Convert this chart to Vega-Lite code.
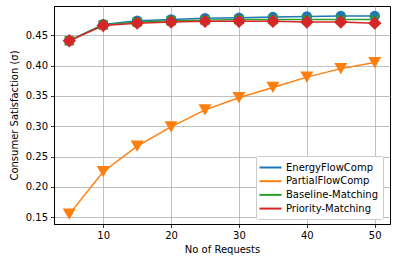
{
  "$schema": "https://vega.github.io/schema/vega-lite/v6.json",
  "width": 336,
  "height": 218,
  "autosize": {"type": "none"},
  "padding": {"left": 54, "top": 6, "right": 5, "bottom": 38},
  "background": "white",
  "config": {
    "font": "DejaVu Sans",
    "view": {"stroke": "black", "strokeWidth": 1},
    "axis": {
      "labelFont": "DejaVu Sans", "labelFontSize": 10, "labelColor": "black",
      "titleFont": "DejaVu Sans", "titleFontSize": 10, "titleFontWeight": "normal", "titleColor": "black",
      "gridColor": "#b0b0b0", "gridWidth": 0.8, "gridOpacity": 1,
      "tickColor": "black", "tickSize": 3.5, "tickWidth": 0.8,
      "domainColor": "black", "domainWidth": 1, "labelPadding": 3
    }
  },
  "data": {"values": [
    {"x": 5, "v": 0.441, "s": "EnergyFlowComp"},
    {"x": 10, "v": 0.468, "s": "EnergyFlowComp"},
    {"x": 15, "v": 0.474, "s": "EnergyFlowComp"},
    {"x": 20, "v": 0.476, "s": "EnergyFlowComp"},
    {"x": 25, "v": 0.478, "s": "EnergyFlowComp"},
    {"x": 30, "v": 0.479, "s": "EnergyFlowComp"},
    {"x": 35, "v": 0.480, "s": "EnergyFlowComp"},
    {"x": 40, "v": 0.481, "s": "EnergyFlowComp"},
    {"x": 45, "v": 0.482, "s": "EnergyFlowComp"},
    {"x": 50, "v": 0.482, "s": "EnergyFlowComp"},
    {"x": 5, "v": 0.155, "s": "PartialFlowComp"},
    {"x": 10, "v": 0.225, "s": "PartialFlowComp"},
    {"x": 15, "v": 0.267, "s": "PartialFlowComp"},
    {"x": 20, "v": 0.299, "s": "PartialFlowComp"},
    {"x": 25, "v": 0.327, "s": "PartialFlowComp"},
    {"x": 30, "v": 0.347, "s": "PartialFlowComp"},
    {"x": 35, "v": 0.364, "s": "PartialFlowComp"},
    {"x": 40, "v": 0.381, "s": "PartialFlowComp"},
    {"x": 45, "v": 0.395, "s": "PartialFlowComp"},
    {"x": 50, "v": 0.405, "s": "PartialFlowComp"},
    {"x": 5, "v": 0.441, "s": "Baseline-Matching"},
    {"x": 10, "v": 0.467, "s": "Baseline-Matching"},
    {"x": 15, "v": 0.472, "s": "Baseline-Matching"},
    {"x": 20, "v": 0.474, "s": "Baseline-Matching"},
    {"x": 25, "v": 0.475, "s": "Baseline-Matching"},
    {"x": 30, "v": 0.476, "s": "Baseline-Matching"},
    {"x": 35, "v": 0.476, "s": "Baseline-Matching"},
    {"x": 40, "v": 0.476, "s": "Baseline-Matching"},
    {"x": 45, "v": 0.476, "s": "Baseline-Matching"},
    {"x": 50, "v": 0.476, "s": "Baseline-Matching"},
    {"x": 5, "v": 0.441, "s": "Priority-Matching"},
    {"x": 10, "v": 0.466, "s": "Priority-Matching"},
    {"x": 15, "v": 0.470, "s": "Priority-Matching"},
    {"x": 20, "v": 0.472, "s": "Priority-Matching"},
    {"x": 25, "v": 0.473, "s": "Priority-Matching"},
    {"x": 30, "v": 0.473, "s": "Priority-Matching"},
    {"x": 35, "v": 0.473, "s": "Priority-Matching"},
    {"x": 40, "v": 0.472, "s": "Priority-Matching"},
    {"x": 45, "v": 0.472, "s": "Priority-Matching"},
    {"x": 50, "v": 0.470, "s": "Priority-Matching"}
  ]},
  "encoding": {
    "x": {"field": "x", "type": "quantitative",
      "scale": {"domain": [2.75, 52.25], "nice": false, "zero": false},
      "axis": {"values": [10, 20, 30, 40, 50], "title": "No of Requests", "titlePadding": 4}},
    "y": {"field": "v", "type": "quantitative",
      "scale": {"domain": [0.1387, 0.4983], "nice": false, "zero": false},
      "axis": {"values": [0.15, 0.2, 0.25, 0.3, 0.35, 0.4, 0.45], "format": ".2f", "title": "Consumer Satisfaction (σ)", "titlePadding": 6}}
  },
  "layer": [
    {"mark": {"type": "line", "strokeWidth": 1.5, "clip": true},
     "encoding": {
       "color": {"field": "s", "type": "nominal",
         "scale": {"domain": ["EnergyFlowComp", "PartialFlowComp", "Baseline-Matching", "Priority-Matching"],
                   "range": ["#1f77b4", "#ff7f0e", "#2ca02c", "#d62728"]},
         "legend": {"title": null, "orient": "none", "legendX": 202, "legendY": 150,
           "symbolType": "M-2,0L2,0", "symbolSize": 121, "symbolStrokeWidth": 2, "symbolOffset": 3,
           "labelFont": "DejaVu Sans", "labelFontSize": 10, "labelColor": "black",
           "strokeColor": "#cccccc", "fillColor": "white", "cornerRadius": 2, "padding": 5,
           "rowPadding": 1.7, "labelOffset": 9}}
     }},
    {"transform": [{"filter": "datum.s === 'EnergyFlowComp'"}],
     "mark": {"type": "point", "filled": true, "opacity": 1, "clip": true, "shape": "circle", "size": 110, "color": "#1f77b4"}},
    {"transform": [{"filter": "datum.s === 'PartialFlowComp'"}],
     "mark": {"type": "point", "filled": true, "opacity": 1, "clip": true, "shape": "triangle-down", "size": 170, "color": "#ff7f0e"}},
    {"transform": [{"filter": "datum.s === 'Baseline-Matching'"}],
     "mark": {"type": "point", "filled": true, "opacity": 1, "clip": true, "shape": "M-0.7,-1L0,-0.3L0.7,-1L1,-0.7L0.3,0L1,0.7L0.7,1L0,0.3L-0.7,1L-1,0.7L-0.3,0L-1,-0.7Z", "size": 110, "color": "#2ca02c"}},
    {"transform": [{"filter": "datum.s === 'Priority-Matching'"}],
     "mark": {"type": "point", "filled": true, "opacity": 1, "clip": true, "shape": "diamond", "size": 180, "color": "#d62728"}}
  ]
}
